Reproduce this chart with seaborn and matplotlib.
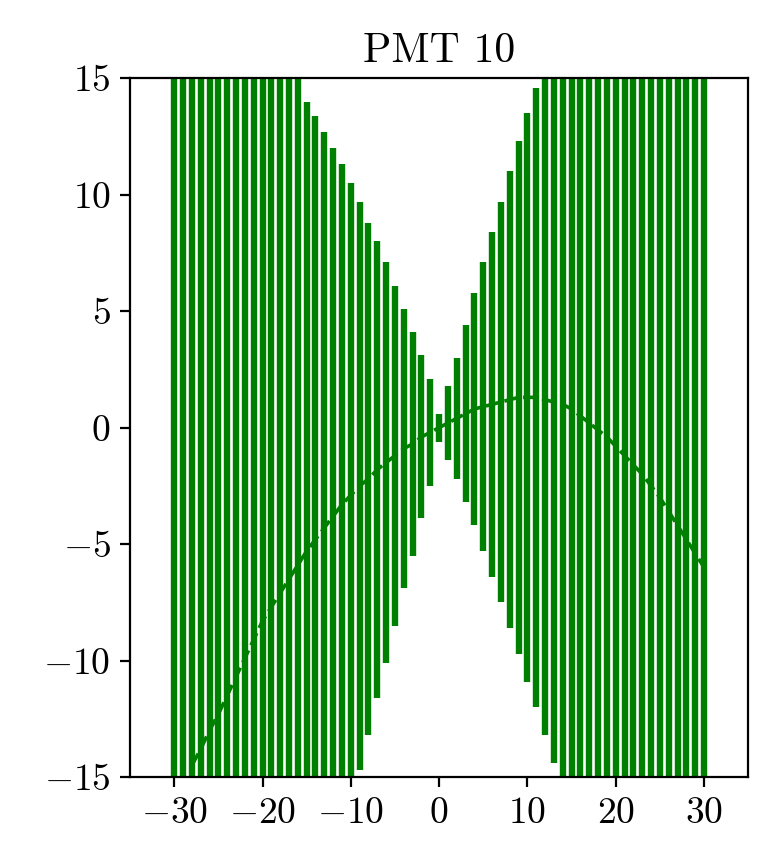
import numpy as np
import pandas as pd
import matplotlib
matplotlib.use("Agg")
import matplotlib.pyplot as plt
import seaborn as sns

x_vals = list(range(-30, 31))
y_vals = [-16.0, -15.2, -14.5, -13.8, -13.0, -12.3, -11.5, -10.7, -9.9, -9.1,
          -8.3, -7.7, -7.1, -6.5, -5.9, -5.3, -4.8, -4.3, -3.8, -3.3,
          -2.9, -2.5, -2.2, -1.8, -1.5, -1.2, -0.9, -0.7, -0.4, -0.2,
          0.0, 0.2, 0.4, 0.6, 0.8, 0.9, 1.0, 1.1, 1.2, 1.3,
          1.3, 1.3, 1.2, 1.1, 1.0, 0.8, 0.5, 0.2, -0.1, -0.4,
          -0.8, -1.2, -1.6, -2.0, -2.5, -3.0, -3.6, -4.2, -4.8, -5.4, -6.0]
err_vals = [40, 40, 40, 40, 40, 40, 40, 40, 40, 40,
            40, 40, 40, 40, 21, 19.3, 18.2, 17.0, 15.8, 14.6,
            13.4, 12.2, 11.0, 9.8, 8.6, 7.3, 6.0, 4.8, 3.5, 2.3,
            0.6, 1.6, 2.6, 3.8, 5.0, 6.2, 7.4, 8.6, 9.8, 11.0,
            12.2, 13.3, 14.4, 15.5, 16.0, 19.0, 21, 40, 40, 40,
            40, 40, 40, 40, 40, 40, 40, 40, 40, 40, 40]

df = pd.DataFrame({"x": x_vals, "y": y_vals, "err": err_vals})

sns.set_style("ticks")
plt.rcParams["font.family"] = ["cmr10"]
plt.rcParams["mathtext.fontset"] = "cm"
plt.rcParams["axes.formatter.use_mathtext"] = True
plt.rcParams["text.color"] = "black"
plt.rcParams["xtick.color"] = "black"
plt.rcParams["ytick.color"] = "black"

fig = plt.figure(figsize=(3.825, 4.3), dpi=200)
ax = fig.add_axes([0.17, 0.0965, 0.808, 0.8125])
ax.errorbar(df["x"], df["y"], yerr=df["err"], fmt="none", ecolor="green", elinewidth=2.3)
sns.lineplot(data=df[df["x"] >= -28], x="x", y="y", ax=ax, color="green", linestyle="--", linewidth=1.3)
ax.set_xlim(-35, 35)
ax.set_ylim(-15, 15)
ax.set_xticks([-30, -20, -10, 0, 10, 20, 30])
ax.set_yticks([-15, -10, -5, 0, 5, 10, 15])
ax.set_xlabel("")
ax.set_ylabel("")
ax.set_title("PMT 10", fontsize=15, color="black")
for s in ax.spines.values():
    s.set_color("black")
    s.set_linewidth(0.8)
ax.tick_params(labelsize=13.5, labelcolor="black", color="black", length=3.5, width=0.8)
fig.savefig("out.png", dpi=200)
